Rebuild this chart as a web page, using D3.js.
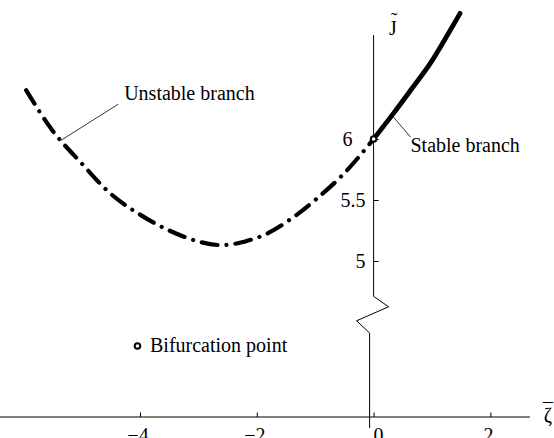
<!DOCTYPE html>
<html>
<head>
<meta charset="utf-8">
<script src="https://cdn.jsdelivr.net/npm/d3@7"></script>
<style>
body { margin: 0; background: #fff; }
svg text { font-family: "Liberation Serif", "Times New Roman", serif; font-size: 20px; fill: #000; }
</style>
</head>
<body>
<svg id="chart" width="554" height="438"></svg>
<script>
// data
var unstableZeta = [-5.95, -5.5, -5.0, -4.5, -4.0, -3.5, -3.0, -2.6, -2.2, -1.8, -1.4, -1.0, -0.5, 0];
var unstableJ    = [6.40, 6.07, 5.80, 5.55, 5.38, 5.25, 5.16, 5.13, 5.16, 5.23, 5.35, 5.50, 5.72, 6.0];
var stableZeta = [0, 0.34, 0.65, 0.97, 1.31, 1.48];
var stableJ    = [6.0, 6.21, 6.41, 6.62, 6.89, 7.03];
var bifurcation = [0, 6];
var xTickLabels = [-4, -2, 0, 2];
var yTickLabels = [5, 5.5, 6];
var labels = ["Unstable branch", "Stable branch", "Bifurcation point"];

var svg = d3.select("#chart");

// scales
var x = d3.scaleLinear().domain([-4, 2]).range([140, 490.4]);
var y = d3.scaleLinear().domain([5, 6]).range([261, 139]);
var axisY = 417;   // horizontal axis sits below the break
var fmt = function(d) { return String(d).replace("-", "\u2212"); };

// horizontal axis
svg.append("line")
    .attr("x1", 0).attr("x2", 530)
    .attr("y1", axisY).attr("y2", axisY)
    .attr("stroke", "#000").attr("stroke-width", 1);

var xMinor = d3.range(-25, 11).map(function(i) { return i * 0.25; });
var gx = svg.append("g").attr("transform", "translate(0," + axisY + ")");
gx.call(d3.axisTop(x).tickValues(xMinor).tickSize(2.5).tickFormat(""));
gx.call(d3.axisTop(x).tickValues(xTickLabels).tickSize(4.5).tickFormat(""));
gx.selectAll(".domain").remove();
gx.selectAll("line").attr("stroke", "#000").attr("stroke-width", 1);

svg.selectAll(".xlab").data(xTickLabels).enter().append("text")
    .attr("class", "xlab")
    .attr("x", function(d) { return x(d) + (d === 0 ? 5 : -2); })
    .attr("y", axisY + 25)
    .attr("text-anchor", "middle")
    .text(fmt);

// vertical axis with a break
var x0 = x(0);
var breakTop = 4.71;
var axisPath = [
    [x0, y(6.852)],
    [x0, y(breakTop)],
    [x0 + 15, y(4.625)],
    [x0 - 17, y(4.51)],
    [x0 - 4, y(4.41)],
    [x0 - 4, axisY + 11]
];
svg.append("path")
    .attr("d", d3.line()(axisPath))
    .attr("fill", "none").attr("stroke", "#000").attr("stroke-width", 1);

var yMinor = d3.range(0, 11).map(function(i) { return 5 + i * 0.1; });
var gy = svg.append("g").attr("transform", "translate(" + x0 + ",0)");
gy.call(d3.axisRight(y).tickValues(yMinor).tickSize(2.5).tickFormat(""));
gy.call(d3.axisRight(y).tickValues(yTickLabels).tickSize(5).tickFormat(""));
gy.selectAll(".domain").remove();
gy.selectAll("line").attr("stroke", "#000").attr("stroke-width", 1);

svg.selectAll(".ylab").data(yTickLabels).enter().append("text")
    .attr("class", "ylab")
    // the label at the bifurcation level is pushed left, clear of the curve
    .attr("x", function(d) { return x0 - (d === bifurcation[1] ? 21 : 8); })
    .attr("y", function(d) { return y(d) + 7; })
    .attr("text-anchor", "end")
    .text(fmt);

// axis titles: letter with its accent in one text element
var jt = svg.append("text").attr("text-anchor", "middle");
jt.append("tspan").attr("x", 393).attr("y", 35).text("J");
jt.append("tspan").attr("x", 394).attr("y", 27).text("\u02DC");

var zt = svg.append("text").attr("text-anchor", "middle");
zt.append("tspan").attr("x", 548).attr("y", 422).text("\u03B6");
zt.append("tspan").attr("x", 548).attr("y", 418).text("\u00AF");

// curves
var line = d3.line()
    .x(function(d) { return x(d[0]); })
    .y(function(d) { return y(d[1]); })
    .curve(d3.curveCatmullRom);

svg.append("path")
    .datum(d3.zip(unstableZeta, unstableJ))
    .attr("d", line)
    .attr("fill", "none").attr("stroke", "#000")
    .attr("stroke-width", 4.2)
    .attr("stroke-linecap", "round")
    .attr("stroke-dasharray", "16 9 0.01 9");

svg.append("path")
    .datum(d3.zip(stableZeta, stableJ))
    .attr("d", line)
    .attr("fill", "none").attr("stroke", "#000")
    .attr("stroke-width", 4.8)
    .attr("stroke-linecap", "round");

// annotations
var unstableAt = [-5.35, 5.99];
var stableAt = [0.34, 6.18];
svg.append("line")
    .attr("x1", x(unstableAt[0])).attr("y1", y(unstableAt[1]))
    .attr("x2", x(unstableAt[0]) + 57).attr("y2", y(unstableAt[1]) - 36)
    .attr("stroke", "#000").attr("stroke-width", 0.8);
svg.append("text")
    .attr("x", x(unstableAt[0]) + 63).attr("y", y(unstableAt[1]) - 40)
    .text(labels[0]);

svg.append("line")
    .attr("x1", x(stableAt[0])).attr("y1", y(stableAt[1]))
    .attr("x2", x(stableAt[0]) + 17).attr("y2", y(stableAt[1]) + 20)
    .attr("stroke", "#000").attr("stroke-width", 0.8);
svg.append("text")
    .attr("x", x(stableAt[0]) + 17).attr("y", y(stableAt[1]) + 35)
    .text(labels[1]);

// bifurcation point and its key
svg.append("circle")
    .attr("cx", x(bifurcation[0])).attr("cy", y(bifurcation[1]))
    .attr("r", 2.8)
    .attr("fill", "#fff").attr("stroke", "#000").attr("stroke-width", 2);

svg.append("circle")
    .attr("cx", 137.5).attr("cy", 346)
    .attr("r", 2.8)
    .attr("fill", "#fff").attr("stroke", "#000").attr("stroke-width", 2);
svg.append("text").attr("x", 150).attr("y", 352).text(labels[2]);
</script>
</body>
</html>
